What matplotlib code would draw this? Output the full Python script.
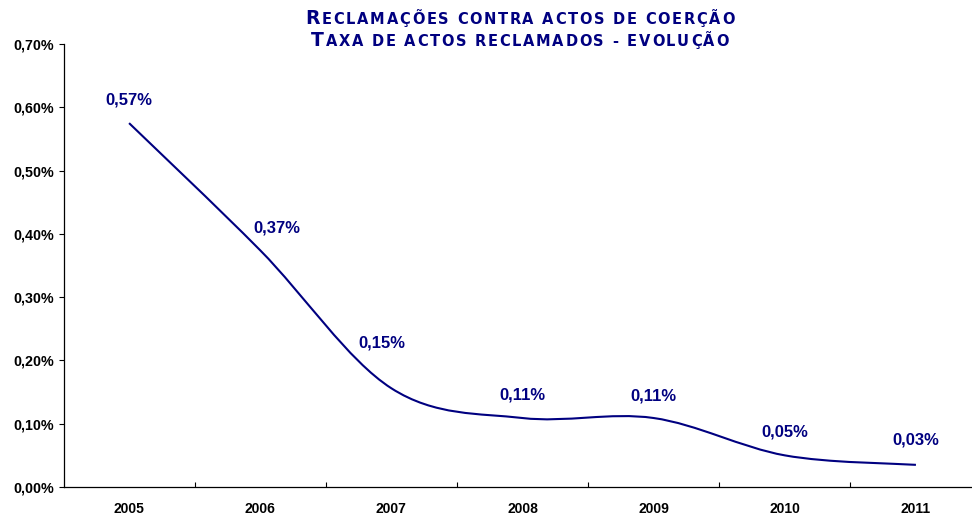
import matplotlib
matplotlib.use("Agg")
import matplotlib.pyplot as plt
from matplotlib.path import Path
from matplotlib.patches import PathPatch
from matplotlib.font_manager import FontProperties

# data (percent)
years = ["2005", "2006", "2007", "2008", "2009", "2010", "2011"]
rate = [0.575, 0.374, 0.156, 0.109, 0.109, 0.050, 0.035]
rate_labels = ["0,57%", "0,37%", "0,15%", "0,11%", "0,11%", "0,05%", "0,03%"]
ytick_vals = [0.0, 0.1, 0.2, 0.3, 0.4, 0.5, 0.6, 0.7]
ytick_labels = ["0,00%", "0,10%", "0,20%", "0,30%", "0,40%", "0,50%", "0,60%", "0,70%"]
title_lines = ["Reclamações contra actos de coerção",
               "Taxa de actos reclamados - evolução"]

# label nudges in pixels (the original had a couple moved by hand)
label_offsets = [(0, 23), (17, 22), (-9, 45), (0, 23), (0, 22), (0, 23), (0, 25)]

NAVY = "#000080"
W, H = 972, 517

plt.rcParams["font.family"] = ["Liberation Sans", "DejaVu Sans"]

fig = plt.figure(figsize=(W / 100, H / 100), dpi=100)
ax = fig.add_axes([63.5 / W, 30 / H, (981.5 - 63.5) / W, (487 - 44) / H])

# smoothed line like Excel: cubic bezier through the points
xs = list(range(len(rate)))
pts = list(zip(xs, rate))
verts = [pts[0]]
codes = [Path.MOVETO]
for i in range(len(pts) - 1):
    p0 = pts[max(i - 1, 0)]
    p1 = pts[i]
    p2 = pts[i + 1]
    p3 = pts[min(i + 2, len(pts) - 1)]
    c1 = (p1[0] + (p2[0] - p0[0]) / 6, p1[1] + (p2[1] - p0[1]) / 6)
    c2 = (p2[0] - (p3[0] - p1[0]) / 6, p2[1] - (p3[1] - p1[1]) / 6)
    verts += [c1, c2, p2]
    codes += [Path.CURVE4] * 3
ax.add_patch(PathPatch(Path(verts, codes), facecolor="none", edgecolor=NAVY,
                       lw=1.5, capstyle="butt"))

for x, y, lab, off in zip(xs, rate, rate_labels, label_offsets):
    ax.annotate(lab, (x, y), xytext=off, textcoords="offset pixels",
                ha="center", va="center", color=NAVY, fontsize=12,
                fontweight="bold")

ax.set_xlim(-0.5, 6.5)
ax.set_ylim(0, 0.7)
ax.set_yticks(ytick_vals)
ax.set_yticklabels(ytick_labels)
ax.tick_params(axis="y", direction="out", length=3.6, width=0.8, pad=3.5,
               labelsize=10.3)
for t in ax.get_yticklabels():
    t.set_fontweight("bold")

ax.set_xticks([i + 0.5 for i in range(len(years) - 1)])
ax.set_xticklabels([])
ax.set_xticks(xs, minor=True)
ax.set_xticklabels(years, minor=True, fontsize=10, fontweight="bold")
ax.tick_params(axis="x", which="major", direction="in", length=3.5, width=0.8)
ax.tick_params(axis="x", which="minor", length=0, pad=11)

for s in ["top", "right"]:
    ax.spines[s].set_visible(False)
for s in ["left", "bottom"]:
    ax.spines[s].set_linewidth(0.9)


def small_caps(text, xc, y, big, small, track):
    # fake small caps with a bit of letter spacing, centred at pixel xc
    rend = fig.canvas.get_renderer()
    chars = []
    total = 0
    for ch in text:
        size = big if ch.isupper() else small
        prop = FontProperties(family="DejaVu Sans", weight="bold", size=size)
        w, _, _ = rend.get_text_width_height_descent(ch.upper(), prop, ismath=False)
        chars.append((ch.upper(), prop, w))
        total += w + track
    total -= track
    x = xc - total / 2
    for ch, prop, w in chars:
        fig.text(x / W, y / H, ch, fontproperties=prop, color=NAVY,
                 va="baseline", ha="left")
        x += w + track


small_caps(title_lines[0], 520, H - 24, 13.5, 10.5, 1.7)
small_caps(title_lines[1], 520, H - 46, 13.5, 10.5, 1.7)

fig.savefig("out.png", dpi=100)
